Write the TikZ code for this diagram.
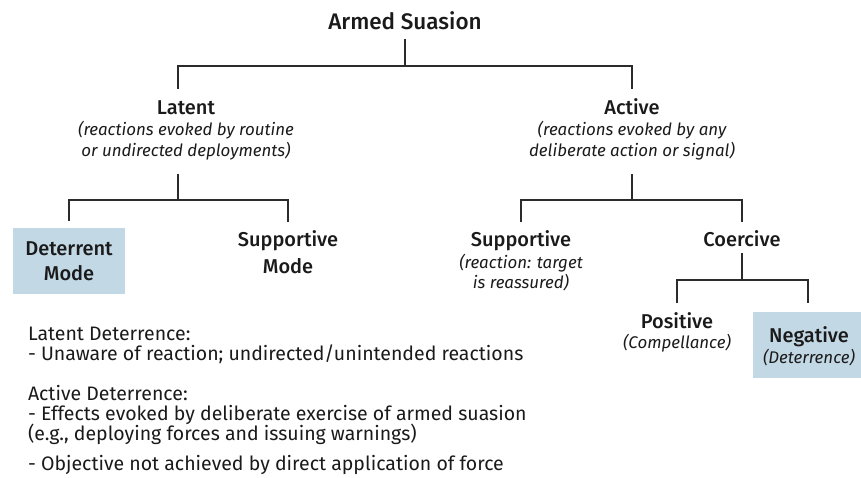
\documentclass[tikz,border=0pt]{standalone}
\usepackage{fontspec}
\setmainfont{Fira Sans}[BoldFont={Fira Sans Medium}]
\definecolor{boxblue}{HTML}{C2D8E5}
\definecolor{ink}{HTML}{1A1A1A}
\definecolor{linec}{HTML}{2B2B2B}
\begin{document}
\begin{tikzpicture}[x=1pt,y=-1pt,
  conn/.style={draw=linec, line width=1.1pt},
  every node/.style={text=ink, inner sep=0pt, outer sep=0pt},
  rootst/.style={font=\bfseries\fontsize{22.5}{26}\selectfont, anchor=base},
  head/.style={font=\bfseries\fontsize{20}{25}\selectfont, anchor=base},
  sub/.style={font=\itshape\fontsize{16.9}{21}\selectfont, anchor=base},
  body/.style={font=\fontsize{19.5}{20}\selectfont, anchor=base west},
  hl/.style={fill=boxblue, align=center, minimum width=112pt, minimum height=66pt},
  hlb/.style={fill=boxblue, minimum width=108pt, minimum height=66pt}
]
\useasboundingbox (0,0) rectangle (861,478);

% root
\node[rootst, text depth=9pt] (root) at (405,30) {Armed Suasion};

% level 1
\node[head, text height=26pt] (latent) at (186,115) {Latent};
\node[sub] (latentsubA) at (186,136) {(reactions evoked by routine};
\node[sub, text depth=17pt] (latentsubB) at (186,157) {or undirected deployments)};

\node[head, text height=26pt] (active) at (632,115) {Active};
\node[sub] (activesubA) at (632,136) {(reactions evoked by any};
\node[sub, text depth=17pt] (activesubB) at (632,157) {deliberate action or signal)};

% level 2 left
\node[hl, outer ysep=7pt, font=\bfseries\fontsize{20}{25}\selectfont] (detmode) at (69,261) {Deterrent\\Mode};
\node[head, text height=25pt] (supmodeA) at (288,247) {Supportive};
\node[head] (supmodeB) at (288,273) {Mode};

% level 2 right
\node[head, text height=25pt] (rsup) at (521,247) {Supportive};
\node[sub] (rsubA) at (521,268) {(reaction: target};
\node[sub] (rsubB) at (521,288) {is reassured)};
\node[head, text height=25pt, text depth=6pt] (coercive) at (742,247) {Coercive};

% level 3
\node[head, text height=25pt] (positive) at (677,328) {Positive};
\node[sub] (positivesub) at (677,348) {(Compellance)};
\node[hlb, outer ysep=9pt] (negbox) at (807,345) {};
\node[head] (negative) at (809,342) {Negative};
\node[sub] (negativesub) at (809,363) {(Deterrence)};

% connectors
\coordinate (j1) at (405,66);
\coordinate (j2) at (178,200);
\coordinate (j3) at (632,200);
\coordinate (j4) at (742,280);
\draw[conn] (root.south) -- (j1);
\draw[conn] ([xshift=-8pt]latent.north) |- (j1) -| (active.north);
\draw[conn] ([xshift=-8pt]latentsubB.south) -- (j2);
\draw[conn] (detmode.north) |- (j2) -| (supmodeA.north);
\draw[conn] (activesubB.south) -- (j3);
\draw[conn] (rsup.north) |- (j3) -| (coercive.north);
\draw[conn] (coercive.south) -- (j4);
\draw[conn] (positive.north) |- (j4) -| ([xshift=1pt]negbox.north);

% notes
\node[body] (n1) at (28,340) {Latent Deterrence:};
\node[body] (n2) at (28,360) {- Unaware of reaction; undirected/unintended reactions};
\node[body] (n3) at (28,400) {Active Deterrence:};
\node[body] (n4) at (28,420) {- Effects evoked by deliberate exercise of armed suasion};
\node[body] (n5) at (28,440) {(e.g., deploying forces and issuing warnings)};
\node[body] (n6) at (28,470) {- Objective not achieved by direct application of force};
\end{tikzpicture}
\end{document}
